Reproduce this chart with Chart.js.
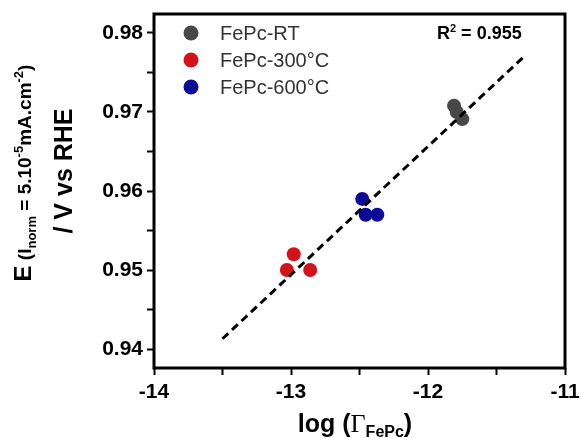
<!DOCTYPE html>
<html>
<head>
<meta charset="utf-8">
<script src="https://cdn.jsdelivr.net/npm/chart.js@4"></script>
<style>
  html, body { margin: 0; padding: 0; background: #fff; }
  #wrap { width: 581px; height: 438px; }
</style>
</head>
<body>
<div id="wrap"><canvas id="chart" width="581" height="438"></canvas></div>
<script>
// Series
const seriesNames = ['FePc-RT', 'FePc-300°C', 'FePc-600°C'];
const seriesColors = ['#484848', '#d41219', '#0b0b98'];
const rtX = [-11.81, -11.79, -11.75];
const rtY = [0.9708, 0.9700, 0.9691];
const t300X = [-12.98, -13.03, -12.86];
const t300Y = [0.952, 0.950, 0.950];
const t600X = [-12.48, -12.455, -12.37];
const t600Y = [0.959, 0.957, 0.957];

// Linear fit
const fitX = [-13.5, -11.3];
const fitY = [0.9413, 0.9770];
const r2Value = '0.955';

// Axes
const xTicks = [-14, -13.5, -13, -12.5, -12, -11.5, -11];
const yTicks = [0.94, 0.945, 0.95, 0.955, 0.96, 0.965, 0.97, 0.975, 0.98];
const xRange = [-14, -11];
const yRange = [0.9376, 0.9824];

const FONT = "'Liberation Sans', Arial, Helvetica, sans-serif";
const SERIF = "'Liberation Serif', 'Times New Roman', serif";

const toPoints = (xs, ys) => xs.map((x, i) => ({ x: x, y: ys[i] }));

// draws a row of text pieces with their own size / weight / vertical shift
function drawRich(ctx, parts, x, y, align, rotate) {
  ctx.save();
  ctx.translate(x, y);
  if (rotate) ctx.rotate(-Math.PI / 2);
  ctx.textBaseline = 'alphabetic';
  ctx.textAlign = 'left';
  const fontOf = p => `${p.weight || 'bold'} ${p.size}px ${p.family || FONT}`;
  let total = 0;
  parts.forEach(p => {
    ctx.font = fontOf(p);
    p.w = ctx.measureText(p.text).width;
    total += p.w;
  });
  let cx = align === 'center' ? -total / 2 : 0;
  parts.forEach(p => {
    ctx.font = fontOf(p);
    ctx.fillStyle = p.color || '#000';
    ctx.fillText(p.text, cx, p.dy || 0);
    cx += p.w;
  });
  ctx.restore();
}

const decorations = {
  id: 'decorations',
  afterDraw(chart) {
    const { ctx, chartArea: a } = chart;

    // frame
    ctx.save();
    ctx.strokeStyle = '#000';
    ctx.lineWidth = 3;
    ctx.strokeRect(a.left, a.top, a.right - a.left, a.bottom - a.top);
    ctx.restore();

    // legend from the scatter datasets
    const pts = chart.data.datasets.filter(d => d.type === 'scatter');
    pts.forEach((d, i) => {
      const ly = a.top + 19 + i * 27;
      ctx.save();
      ctx.fillStyle = d.backgroundColor;
      ctx.beginPath();
      ctx.arc(a.left + 37, ly, 7.5, 0, Math.PI * 2);
      ctx.fill();
      ctx.font = `20px ${FONT}`;
      ctx.fillStyle = '#333';
      ctx.textBaseline = 'middle';
      ctx.fillText(d.label, a.left + 66, ly + 1);
      ctx.restore();
    });

    // R squared
    drawRich(ctx, [
      { text: 'R', size: 18 },
      { text: '2', size: 11, dy: -7 },
      { text: ' = ' + r2Value, size: 18 }
    ], 437, 39, 'left', false);

    // y axis title, two lines
    drawRich(ctx, [
      { text: 'E', size: 24 },
      { text: ' (', size: 19 },
      { text: 'I', size: 19 },
      { text: 'norm', size: 13, dy: 5 },
      { text: ' = 5.10', size: 19 },
      { text: '-5', size: 13, dy: -8 },
      { text: 'mA.cm', size: 19 },
      { text: '-2', size: 13, dy: -8 },
      { text: ')', size: 19 }
    ], 31, 173, 'center', true);
    drawRich(ctx, [{ text: '/ V vs RHE', size: 25 }], 72, 171, 'center', true);

    // x axis title
    drawRich(ctx, [
      { text: 'log (', size: 25 },
      { text: 'Γ', size: 26, weight: 'normal', family: SERIF },
      { text: 'FePc', size: 16, dy: 5 },
      { text: ')', size: 25 }
    ], 355, 432, 'center', false);
  }
};

const ctx = document.getElementById('chart').getContext('2d');
new Chart(ctx, {
  data: {
    datasets: [
      {
        type: 'line',
        label: 'fit',
        data: toPoints(fitX, fitY),
        borderColor: '#000',
        borderWidth: 3,
        borderDash: [8, 5],
        pointRadius: 0,
        fill: false,
        order: 0
      },
      {
        type: 'scatter',
        label: seriesNames[0],
        data: toPoints(rtX, rtY),
        backgroundColor: seriesColors[0],
        pointRadius: 7,
        borderWidth: 0,
        order: 1
      },
      {
        type: 'scatter',
        label: seriesNames[1],
        data: toPoints(t300X, t300Y),
        backgroundColor: seriesColors[1],
        pointRadius: 7,
        borderWidth: 0,
        order: 1
      },
      {
        type: 'scatter',
        label: seriesNames[2],
        data: toPoints(t600X, t600Y),
        backgroundColor: seriesColors[2],
        pointRadius: 7,
        borderWidth: 0,
        order: 1
      }
    ]
  },
  options: {
    responsive: false,
    animation: false,
    layout: { padding: { top: 14, right: 16, left: 0, bottom: 0 } },
    plugins: {
      legend: { display: false },
      tooltip: { enabled: false }
    },
    scales: {
      x: {
        type: 'linear',
        position: 'bottom',
        min: xRange[0],
        max: xRange[1],
        afterBuildTicks: s => { s.ticks = xTicks.map(v => ({ value: v })); },
        afterFit: s => { s.height = 70; s.paddingLeft = 0; s.paddingRight = 0; },
        ticks: {
          autoSkip: false,
          maxRotation: 0,
          padding: 5,
          color: '#000',
          font: { family: FONT, size: 21, weight: 'bold' },
          callback: v => Number.isInteger(v) ? String(v) : ''
        },
        grid: { drawOnChartArea: false, tickLength: 7, tickWidth: 2, color: '#000' },
        border: { display: false }
      },
      y: {
        type: 'linear',
        min: yRange[0],
        max: yRange[1],
        afterBuildTicks: s => { s.ticks = yTicks.map(v => ({ value: v })); },
        afterFit: s => { s.width = 154; s.paddingTop = 0; s.paddingBottom = 0; },
        ticks: {
          autoSkip: false,
          padding: 4,
          color: '#000',
          font: { family: FONT, size: 21, weight: 'bold' },
          callback: v => Math.round(v * 1000) % 10 === 0 ? v.toFixed(2) : ''
        },
        grid: { drawOnChartArea: false, tickLength: 7, tickWidth: 2, color: '#000' },
        border: { display: false }
      }
    }
  },
  plugins: [decorations]
});
</script>
</body>
</html>
